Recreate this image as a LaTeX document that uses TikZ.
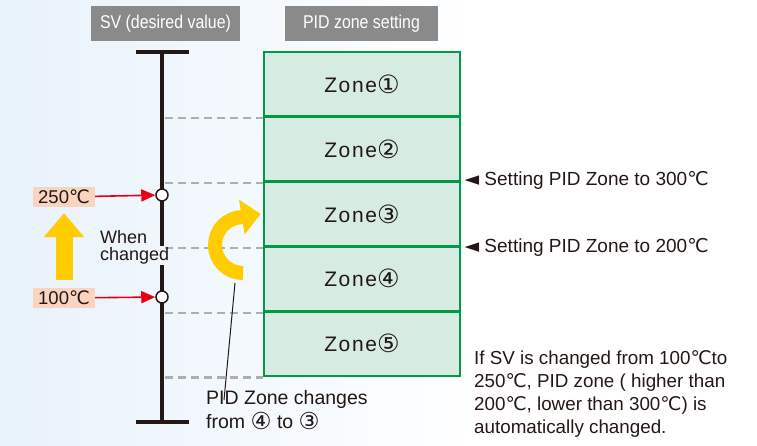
\documentclass[tikz,border=0pt]{standalone}
\usepackage{fontspec}
\setmainfont{Liberation Sans}
\newfontfamily\symfont{DejaVu Sans}
\newfontfamily\tagfont[FakeStretch=0.86]{Liberation Sans}
\newfontfamily\zonefont[LetterSpace=8]{Liberation Sans}
\usepackage{tikz}
\usetikzlibrary{arrows.meta}
\usetikzlibrary{positioning}
\newcommand{\degC}{{\symfont ℃}}
\newcommand{\circled}[1]{\raisebox{-0.05em}{\scalebox{1.2}{\symfont #1}}}
\definecolor{zonegreen}{HTML}{009944}
\definecolor{zonefill}{HTML}{D6EBE1}
\definecolor{taggray}{HTML}{8A8A8A}
\definecolor{dashgray}{HTML}{AEAEAE}
\definecolor{tempfill}{HTML}{F9D4BF}
\definecolor{svred}{HTML}{E60012}
\definecolor{markyellow}{HTML}{FFCC00}
\definecolor{inkblack}{HTML}{231815}
\definecolor{bgblue}{HTML}{E8F2FB}
\tikzstyle{tag}=[fill=taggray, text=white, inner sep=0, minimum height=35,
                 font=\tagfont\fontsize{18.5}{20}\selectfont]
\tikzstyle{zone}=[draw=zonegreen, fill=zonefill, line width=2.8, inner sep=0,
                  minimum width=196, minimum height=64.8,
                  font=\zonefont\fontsize{21}{24}\selectfont, text=inkblack]
\tikzstyle{guide}=[draw=dashgray, line width=2.2, dash pattern=on 8pt off 5pt]
\tikzstyle{svaxis}=[draw=inkblack, line width=3.2]
\tikzstyle{svpoint}=[circle, draw=inkblack, fill=white, line width=1.5, inner sep=0, minimum size=12]
\tikzstyle{temp}=[fill=tempfill, inner sep=0, minimum width=62, minimum height=20, text=inkblack,
                  font=\fontsize{18.5}{20}\selectfont]
\tikzstyle{redarrow}=[draw=svred, line width=1.6, -{Triangle[length=14pt,width=12pt]}]
\tikzstyle{rise}=[draw=markyellow, line width=17, -{Triangle[length=24pt,width=39pt]}]
\tikzstyle{turn}=[draw=markyellow, line width=14, -{Triangle[length=19pt,width=34pt]}]
\tikzstyle{note}=[inner sep=0, align=left, text=inkblack, font=\fontsize{19}{23}\selectfont]
\begin{document}
\begin{tikzpicture}[x=1pt, y=-1pt]
    \useasboundingbox (0,0) rectangle (757,446);
    \shade[left color=bgblue, right color=white] (0,0) rectangle (480,446);
    % header tags
    \node[tag, minimum width=149] (svtag) at (165.5,23.5) {SV (desired value)};
    \node[tag, minimum width=153] (zonetag) at (361.5,23.5) {PID zone setting};
    % zones
    \foreach \i/\c in {1/①,2/②,3/③,4/④,5/⑤}
        \node[zone] (zone\i) at (362,{52+64.8*(\i-0.5)}) {Zone\circled{\c}};
    % SV axis
    \coordinate (svtop) at (162,52);
    \coordinate (svbot) at (162,422);
    \foreach \i in {1,...,5}
        \draw[guide] ([xshift=3]zone\i.south west -| svtop) -- (zone\i.south west);
    \node[note, anchor=west, inner sep=1, font=\fontsize{18}{17}\selectfont] (when) at (99,247) {When\\changed};
    \draw[svaxis] (svtop) -- ([yshift=1]when.center -| svtop);
    \draw[svaxis] (when.south -| svtop) -- (svbot);
    \draw[svaxis] ([xshift=-26]svtop) -- ([xshift=27]svtop);
    \draw[svaxis] ([xshift=-26]svbot) -- ([xshift=27]svbot);
    \node[svpoint] (sv250) at (162,195) {};
    \node[svpoint] (sv100) at (162,297) {};
    \node[temp] (t250) at (64,197) {250\degC};
    \node[temp] (t100) at (64,298) {100\degC};
    \draw[redarrow] (t250) -- (sv250);
    \draw[redarrow] (t100) -- (sv100);
    \draw[rise, shorten <=8, shorten >=6] (t100.north) -- (t250.south);
    % zone change
    \coordinate (turnstart) at (243,273);
    \draw[turn] (turnstart) arc[start angle=90, end angle=268, radius=28] -- ([xshift=-2]zone3.west);
    \node[note, anchor=north west, font=\fontsize{19.5}{24}\selectfont] (change) at (206,390) {PID Zone changes\\from \circled{④} to \circled{③}};
    \coordinate (pointertop) at (235,283);
    \draw[inkblack, line width=1] (pointertop) -- ([xshift=18,yshift=-10]change.north west);
    % settings
    \node[note, anchor=west] (set300) at ([xshift=3]zone3.north east) {{\symfont ◄} Setting PID Zone to 300\degC};
    \node[note, anchor=west] (set200) at ([xshift=3]zone3.south east) {{\symfont ◄} Setting PID Zone to 200\degC};
    \node[note, anchor=north west, font=\fontsize{18.8}{23}\selectfont] (summary) at (474,350) {If SV is changed from 100\degC to\\250\degC, PID zone ( higher than\\200\degC, lower than 300\degC) is\\automatically changed.};
\end{tikzpicture}
\end{document}
